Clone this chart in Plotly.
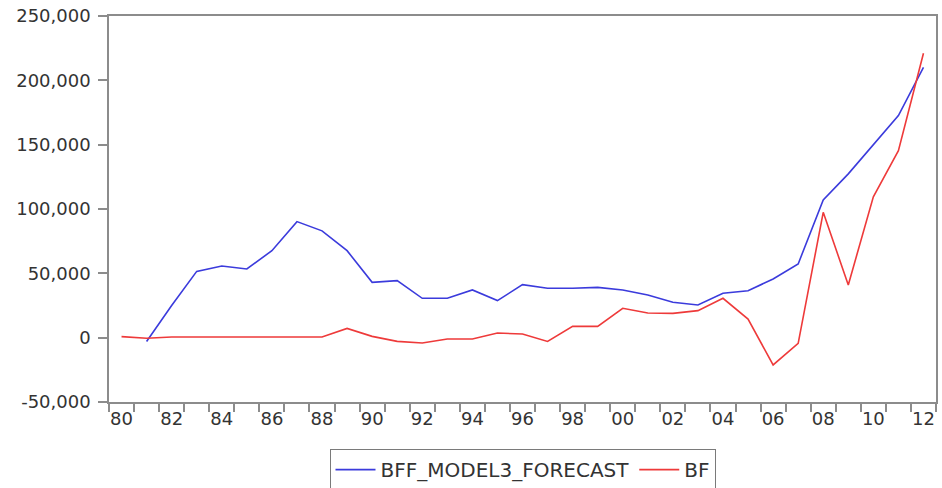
import plotly.graph_objects as go

# Annual observations 1980-2012
years = list(range(1980, 2013))

# Model 3 forecast (starts in 1981)
bff_model3_forecast = [None, -3000, 25000, 51500, 55700, 53400, 67600, 90200, 83000,
                       67600, 43000, 44300, 30600, 30600, 37100, 28800, 41200, 38400,
                       38400, 39100, 37100, 33200, 27500, 25400, 34500, 36500, 45600,
                       57300, 107000, 127300, 150000, 172600, 210000]

# Actual BF series
bf = [800, -500, 500, 500, 500, 500, 500, 300, 500, 7200, 1000, -2900, -4100, -1000,
      -1000, 3600, 2800, -2900, 8800, 8800, 22800, 19200, 18900, 21000, 30600, 14500,
      -21200, -4400, 97400, 41000, 109500, 145400, 221000]

y_ticks = [-50000, 0, 50000, 100000, 150000, 200000, 250000]
y_labels = ["-50,000", "0", "50,000", "100,000", "150,000", "200,000", "250,000"]
x_label_years = list(range(1980, 2013, 2))
x_labels = [f"{y % 100:02d}" for y in x_label_years]

blue = "#3b3bdc"
red = "#ee3a3a"
axis_grey = "#8c8c8c"
text_col = "#333333"
font_family = "DejaVu Sans, Arial, sans-serif"

fig = go.Figure()
fig.add_trace(go.Scatter(x=years, y=bff_model3_forecast, mode="lines",
                         name="BFF_MODEL3_FORECAST",
                         line=dict(color=blue, width=1.6)))
fig.add_trace(go.Scatter(x=years, y=bf, mode="lines", name="BF",
                         line=dict(color=red, width=1.6)))

fig.update_layout(
    width=942, height=488,
    margin=dict(l=109, r=6, t=16, b=86, autoexpand=False),
    paper_bgcolor="white", plot_bgcolor="white",
    font=dict(family=font_family, color=text_col, size=18),
    showlegend=True,
    legend=dict(
        orientation="h", x=0.5, xanchor="center", y=-0.122, yanchor="top",
        bordercolor="#7a7a7a", borderwidth=1,
        font=dict(size=20, color=text_col),
        itemwidth=40,
    ),
)

fig.update_xaxes(
    range=[1979.5, 2012.5],
    tickmode="array", tickvals=x_label_years, ticktext=x_labels,
    ticks="", showgrid=False, zeroline=False,
    showline=True, linecolor=axis_grey, linewidth=1.5, mirror=True,
    tickfont=dict(size=18, color=text_col),
    minor=dict(tickmode="array",
               tickvals=[y - 0.5 for y in years] + [years[-1] + 0.5],
               ticks="outside", ticklen=8, tickcolor=axis_grey, tickwidth=1.5,
               showgrid=False),
)
fig.update_yaxes(
    range=[-50000, 250000],
    tickmode="array", tickvals=y_ticks, ticktext=y_labels,
    ticks="outside", ticklen=9, tickcolor=axis_grey, tickwidth=1.5,
    showgrid=False, zeroline=False,
    showline=True, linecolor=axis_grey, linewidth=1.5, mirror=True,
    tickfont=dict(size=18, color=text_col),
    ticklabelstandoff=4,
)

fig.write_html("out.html")
